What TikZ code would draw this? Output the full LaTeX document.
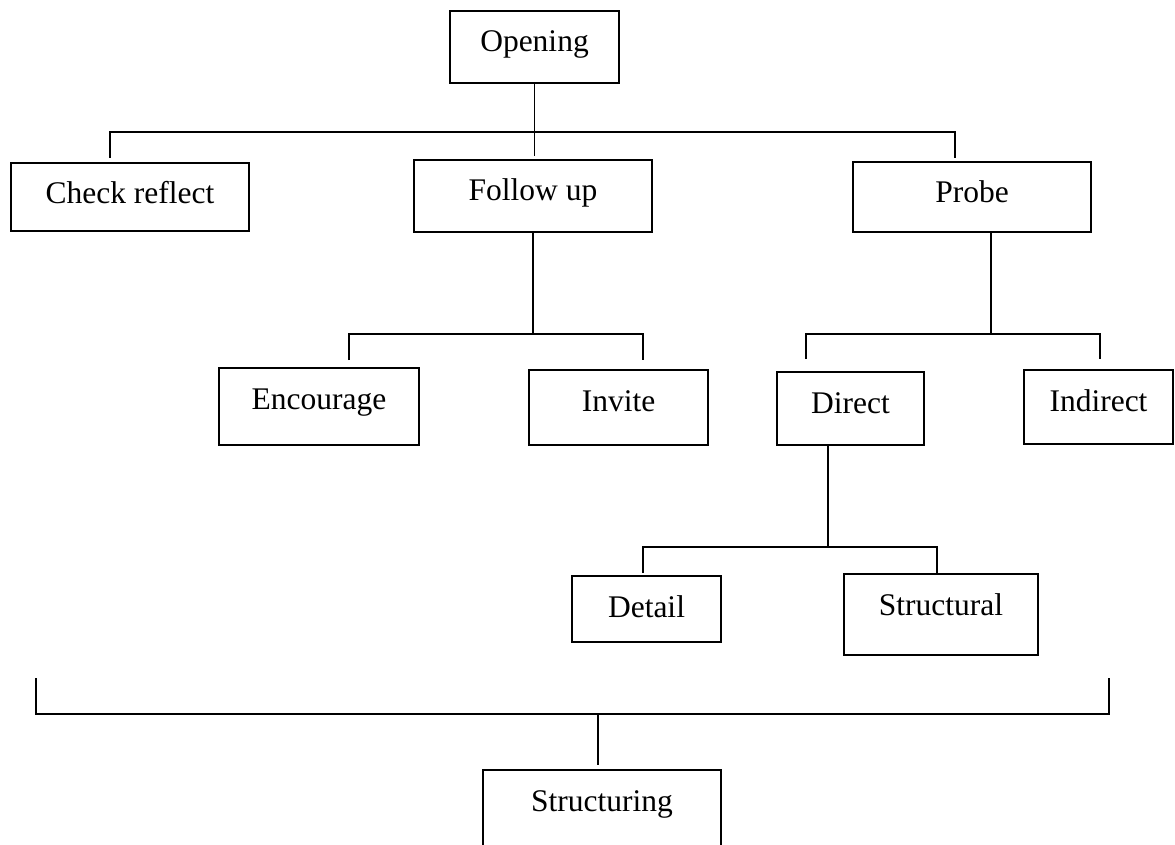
\documentclass[tikz,border=0pt]{standalone}
\usepackage{fontspec}
\setmainfont{Liberation Serif}
\usetikzlibrary{calc}
\tikzset{
  box/.style={draw, line width=2pt, inner sep=0pt, anchor=north west, text height=41pt, font=\fontsize{31.5}{36}\selectfont},
  conn/.style={line width=1.7pt},
}
\begin{document}
\begin{tikzpicture}[x=1pt,y=-1pt]
\clip (0,0) rectangle (1175,845);
\fill[white] (0,0) rectangle (1175,845);
% boxes
\node[box, minimum width=169pt, text depth=31pt] (op) at (449,10) {Opening};
\node[box, minimum width=238pt, text depth=27pt] (cr) at (10,162) {Check reflect};
\node[box, minimum width=238pt, text depth=31pt] (fu) at (413,159) {Follow up};
\node[box, minimum width=238pt, text depth=29pt] (pr) at (852,161) {Probe};
\node[box, minimum width=200pt, text depth=36pt] (en) at (218,367) {Encourage};
\node[box, minimum width=179pt, text depth=34pt] (in) at (528,369) {Invite};
\node[box, minimum width=147pt, text depth=32pt] (di) at (776,371) {Direct};
\node[box, minimum width=149pt, text depth=33pt] (id) at (1023,369) {Indirect};
\node[box, minimum width=149pt, text depth=25pt] (de) at (571,575) {Detail};
\node[box, minimum width=194pt, text depth=40pt] (st) at (843,573) {Structural};
\node[box, minimum width=238pt, text depth=59pt] (su) at (482,769) {Structuring};
% level 1
\coordinate (b1L) at (110,132);
\coordinate (b1R) at (955,132);
\draw[conn] (op.south) -- (op.south |- b1L);
\draw[conn] ($(b1L)+(0,26)$) -- (b1L) -- (b1R) -- ($(b1R)+(0,26)$);
\draw[conn] (op.south |- b1L) -- ($(op.south |- fu.north)+(0,-3)$);
% follow up
\coordinate (b2L) at (349,334);
\coordinate (b2R) at (643,334);
\draw[conn] (fu.south) -- (fu.south |- b2L);
\draw[conn] ($(b2L)+(0,26)$) -- (b2L) -- (b2R) -- ($(b2R)+(0,26)$);
% probe
\coordinate (b3M) at (991,334);
\coordinate (b3L) at (806,334);
\coordinate (b3R) at (1100,334);
\draw[conn] (pr.south -| b3M) -- (b3M);
\draw[conn] ($(b3L)+(0,25)$) -- (b3L) -- (b3R) -- ($(b3R)+(0,25)$);
% direct
\coordinate (b4M) at (828,547);
\coordinate (b4L) at (643,547);
\coordinate (b4R) at (937,547);
\draw[conn] (di.south -| b4M) -- (b4M);
\draw[conn] ($(b4L)+(0,26)$) -- (b4L) -- (b4R) -- ($(b4R)+(0,26)$);
% bottom bracket
\coordinate (b5L) at (36,714);
\coordinate (b5R) at (1109,714);
\coordinate (b5M) at (598,714);
\draw[conn] ($(b5L)+(0,-36)$) -- (b5L) -- (b5R) -- ($(b5R)+(0,-36)$);
\draw[conn] (b5M) -- ($(su.north -| b5M)+(0,-4)$);
\end{tikzpicture}
\end{document}
